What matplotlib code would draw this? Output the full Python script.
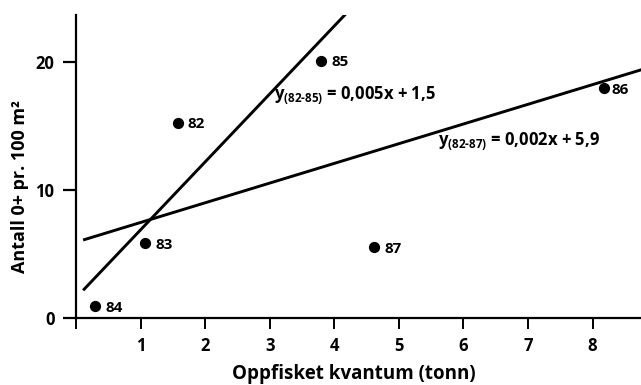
import numpy as np
import matplotlib
matplotlib.use("Agg")
import matplotlib.pyplot as plt

# Catch (tonnes) and density of 0+ per 100 m2, by year
years = ["82", "83", "84", "85", "86", "87"]
catch_t = [1.58, 1.07, 0.30, 3.79, 8.18, 4.62]
density = [15.23, 5.81, 0.91, 20.05, 17.97, 5.50]

x_ticks = [0, 1, 2, 3, 4, 5, 6, 7, 8]
y_ticks = [0, 10, 20]

plt.rcParams["font.family"] = ["Open Sans", "DejaVu Sans"]
plt.rcParams["mathtext.fontset"] = "custom"
plt.rcParams["mathtext.rm"] = "Open Sans:bold"
plt.rcParams["mathtext.it"] = "Open Sans:bold"
plt.rcParams["mathtext.bf"] = "Open Sans:bold"

fig = plt.figure(figsize=(6.41, 3.85), dpi=100)
ax = fig.add_axes([76 / 641, 1 - 317.7 / 385, 1 - 76 / 641, (317.7 - 15) / 385])
ax.set_xlim(0, 8.75)
ax.set_ylim(0, 23.65)

ax.scatter(catch_t, density, s=50, color="black", zorder=3, clip_on=False)

offsets = {"82": (6.5, -1), "83": (7.5, -1.5), "84": (7.5, -1.5), "85": (7.5, -0.5),
           "86": (5.5, -1.5), "87": (7.5, -1.5)}
for lab, xv, yv in zip(years, catch_t, density):
    dx, dy = offsets[lab]
    ax.annotate(lab, (xv, yv), xytext=(dx, dy), textcoords="offset points",
                ha="left", va="center", fontsize=11, fontweight="bold")

# Regression 1982-85 and 1982-87
idx_85 = [years.index(y) for y in ["82", "83", "84", "85"]]
x85 = np.array([catch_t[i] for i in idx_85])
y85 = np.array([density[i] for i in idx_85])
b1, a1 = np.polyfit(x85, y85, 1)
b2, a2 = np.polyfit(np.array(catch_t), np.array(density), 1)

xs1 = np.array([0.11, 4.2])
ax.plot(xs1, a1 + b1 * xs1, color="black", lw=2.1, solid_capstyle="butt")
xs2 = np.array([0.11, 9.0])
ax.plot(xs2, a2 + b2 * xs2, color="black", lw=2.1, solid_capstyle="butt")

ax.text(3.07, 17.4, r"$\mathrm{y_{(82\text{-}85)}}$ = 0,005x + 1,5",
        fontsize=12, fontweight="bold", ha="left", va="center")
ax.text(5.6, 13.8, r"$\mathrm{y_{(82\text{-}87)}}$ = 0,002x + 5,9",
        fontsize=12, fontweight="bold", ha="left", va="center")

for s in ["top", "right"]:
    ax.spines[s].set_visible(False)
for s in ["left", "bottom"]:
    ax.spines[s].set_linewidth(1.6)

ax.set_xticks(x_ticks)
ax.set_xticklabels([""] + [str(t) for t in x_ticks[1:]])
ax.set_yticks(y_ticks)
ax.tick_params(axis="x", direction="out", length=8, width=1.4, pad=6, labelsize=12)
ax.tick_params(axis="y", direction="out", length=9.5, width=1.6, pad=6, labelsize=12)
for lbl in ax.get_xticklabels() + ax.get_yticklabels():
    lbl.set_fontweight("bold")

fig.text(354 / 641, 1 - 374 / 385, "Oppfisket kvantum (tonn)", ha="center", va="center",
         fontsize=13.5, fontweight="bold")
fig.text(20 / 641, 1 - 187 / 385, "Antall 0+ pr. 100 m²", ha="center", va="center",
         rotation=90, fontsize=13, fontweight="bold")

fig.savefig("out.png", dpi=100)
